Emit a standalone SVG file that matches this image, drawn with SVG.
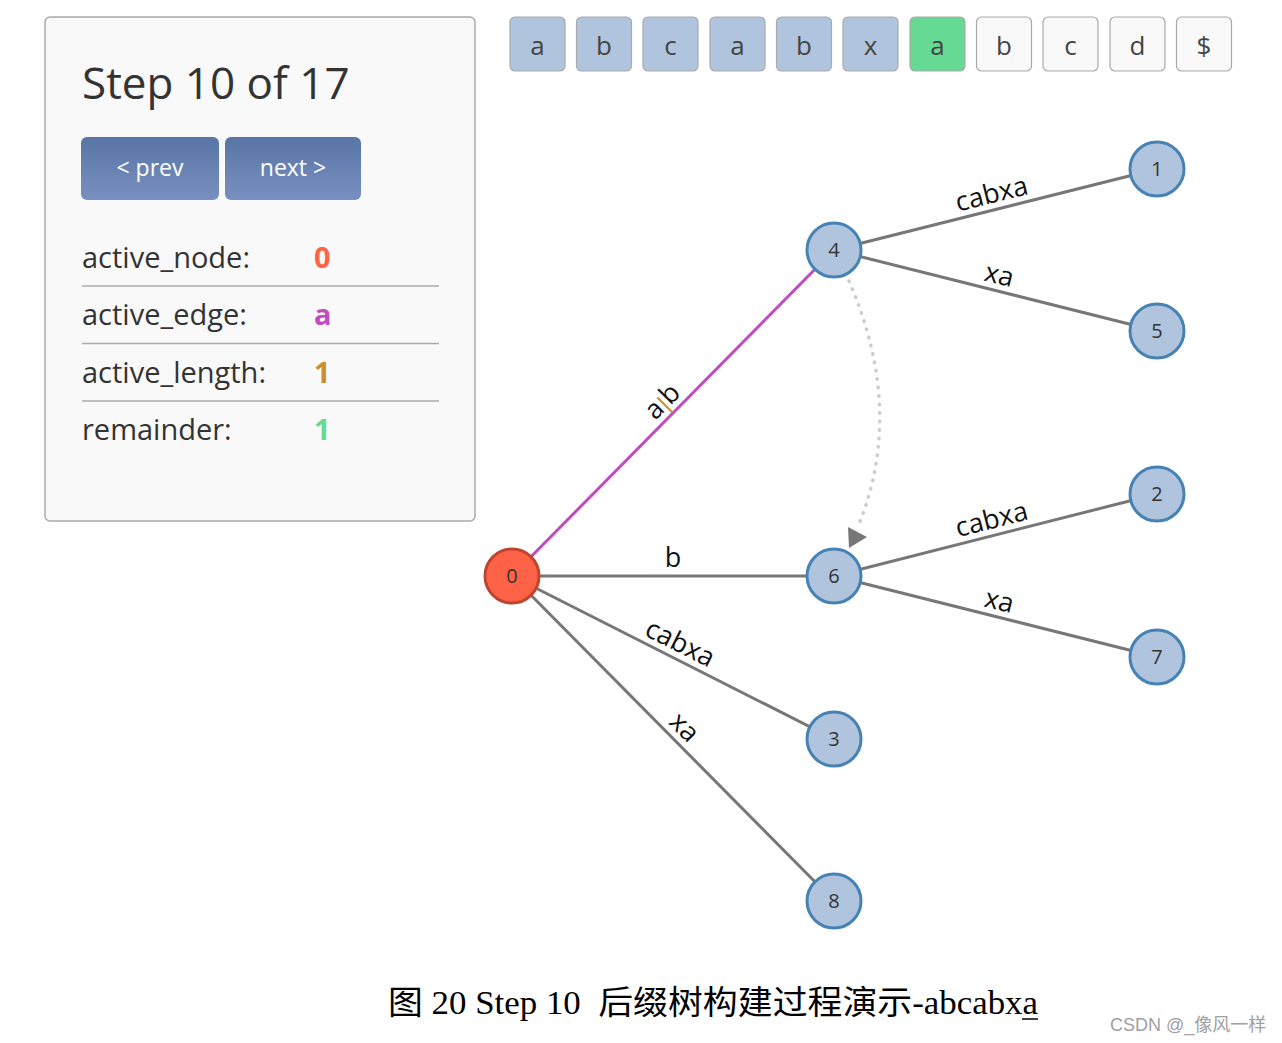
<svg xmlns="http://www.w3.org/2000/svg" width="1282" height="1043" viewBox="0 0 1282 1043">
<style>
.ui{font-family:"Open Sans","Noto Sans","DejaVu Sans",sans-serif;fill:#333}
.box{stroke:#aaa;stroke-width:1.2}
.ch{font-size:26px;text-anchor:middle;fill:#444}
.lbl{font-family:"Open Sans","Noto Sans",sans-serif;font-size:27px;fill:#111}
.mid{text-anchor:middle}
.edge{stroke:#777;stroke-width:3;fill:none}
.node circle{fill:#b0c4de;stroke:#4682b4;stroke-width:3}
.node text{font-family:"Open Sans","Noto Sans",sans-serif;font-size:20px;fill:#333;text-anchor:middle}
.row{font-size:29px}
.val{font-size:29px;font-weight:bold}
.sep{stroke:#aaa;stroke-width:1.5}
</style>
<defs>
<linearGradient id="btn" x1="0" y1="0" x2="0" y2="1">
<stop offset="0" stop-color="#5875a6"/>
<stop offset="1" stop-color="#7890c0"/>
</linearGradient>
</defs>
<rect width="1282" height="1043" fill="#fff"/>

<g id="panel" class="ui">
<rect x="45" y="17" width="430" height="504" rx="5" fill="#f9f9f9" stroke="#aaa" stroke-width="1.5"/>
<text x="82" y="99" font-size="44" fill="#333">Step 10 of 17</text>
<rect x="81" y="137" width="138" height="63" rx="6" fill="url(#btn)"/>
<rect x="225" y="137" width="136" height="63" rx="6" fill="url(#btn)"/>
<text x="150" y="176" font-size="23" fill="#fff" text-anchor="middle">&lt; prev</text>
<text x="293" y="176" font-size="23" fill="#fff" text-anchor="middle">next &gt;</text>
<text class="row" x="82" y="268">active_node:</text>
<text class="val" x="314" y="268" fill="#ff6347">0</text>
<line class="sep" x1="82" y1="286" x2="439" y2="286"/>
<text class="row" x="82" y="325">active_edge:</text>
<text class="val" x="314" y="325" fill="#c04cc0">a</text>
<line class="sep" x1="82" y1="343.5" x2="439" y2="343.5"/>
<text class="row" x="82" y="383">active_length:</text>
<text class="val" x="314" y="383" fill="#c8902a">1</text>
<line class="sep" x1="82" y1="401" x2="439" y2="401"/>
<text class="row" x="82" y="440">remainder:</text>
<text class="val" x="314" y="440" fill="#66d992">1</text>
</g>

<g id="chars" class="ui">
<rect class="box" x="510" y="17" width="55" height="54" rx="5" fill="#b0c4de"/><text class="ch" x="537.5" y="55">a</text>
<rect class="box" x="576.5" y="17" width="55" height="54" rx="5" fill="#b0c4de"/><text class="ch" x="604" y="55">b</text>
<rect class="box" x="643" y="17" width="55" height="54" rx="5" fill="#b0c4de"/><text class="ch" x="670.5" y="55">c</text>
<rect class="box" x="710" y="17" width="55" height="54" rx="5" fill="#b0c4de"/><text class="ch" x="737.5" y="55">a</text>
<rect class="box" x="776.5" y="17" width="55" height="54" rx="5" fill="#b0c4de"/><text class="ch" x="804" y="55">b</text>
<rect class="box" x="843" y="17" width="55" height="54" rx="5" fill="#b0c4de"/><text class="ch" x="870.5" y="55">x</text>
<rect class="box" x="910" y="17" width="55" height="54" rx="5" fill="#66d994"/><text class="ch" x="937.5" y="55">a</text>
<rect class="box" x="976.5" y="17" width="55" height="54" rx="5" fill="#f9f9f9"/><text class="ch" x="1004" y="55">b</text>
<rect class="box" x="1043" y="17" width="55" height="54" rx="5" fill="#f9f9f9"/><text class="ch" x="1070.5" y="55">c</text>
<rect class="box" x="1110" y="17" width="55" height="54" rx="5" fill="#f9f9f9"/><text class="ch" x="1137.5" y="55">d</text>
<rect class="box" x="1176.5" y="17" width="55" height="54" rx="5" fill="#f9f9f9"/><text class="ch" x="1204" y="55">$</text>
</g>

<g id="connectors">
<line x1="512" y1="576" x2="834" y2="250" stroke="#c04cc0" stroke-width="3"/>
<line class="edge" x1="512" y1="576" x2="834" y2="576"/>
<line class="edge" x1="512" y1="576" x2="834" y2="739"/>
<line class="edge" x1="512" y1="576" x2="834" y2="901"/>
<line class="edge" x1="834" y1="250" x2="1157" y2="169"/>
<line class="edge" x1="834" y1="250" x2="1157" y2="331"/>
<line class="edge" x1="834" y1="576" x2="1157" y2="494"/>
<line class="edge" x1="834" y1="576" x2="1157" y2="657"/>
<path d="M849,281 Q905,410 859,524" fill="none" stroke="#ccc" stroke-width="3.5" stroke-linecap="round" stroke-dasharray="0.5 8"/>
<polygon points="848,527 867,537 849,548" fill="#777"/>

<g transform="translate(673,413) rotate(-45.35)">
<text class="lbl" x="-3" y="-7" style="text-anchor:end">a</text>
<text class="lbl" x="3" y="-7" style="text-anchor:start">b</text>
<line x1="0" y1="-22" x2="0" y2="-1" stroke="#c8902a" stroke-width="2"/>
</g>
<text class="lbl mid" x="673" y="567">b</text>
<text class="lbl mid" transform="translate(673,657.5) rotate(26.85)" y="-7">cabxa</text>
<text class="lbl mid" transform="translate(673,738.5) rotate(45.27)" y="-7">xa</text>
<text class="lbl mid" transform="translate(995.5,209.5) rotate(-14.07)" y="-7">cabxa</text>
<text class="lbl mid" transform="translate(995.5,290.5) rotate(14.07)" y="-7">xa</text>
<text class="lbl mid" transform="translate(995.5,535) rotate(-14.25)" y="-7">cabxa</text>
<text class="lbl mid" transform="translate(995.5,616.5) rotate(14.07)" y="-7">xa</text>
</g>

<g id="node0" class="node"><circle cx="512" cy="576" r="27" style="fill:#ff6347;stroke:#c0452f"/><text x="512" y="583">0</text></g>
<g id="node4" class="node"><circle cx="834" cy="250" r="27"/><text x="834" y="257">4</text></g>
<g id="node6" class="node"><circle cx="834" cy="576" r="27"/><text x="834" y="583">6</text></g>
<g id="node1" class="node"><circle cx="1157" cy="169" r="27"/><text x="1157" y="176">1</text></g>
<g id="node5" class="node"><circle cx="1157" cy="331" r="27"/><text x="1157" y="338">5</text></g>
<g id="node2" class="node"><circle cx="1157" cy="494" r="27"/><text x="1157" y="501">2</text></g>
<g id="node7" class="node"><circle cx="1157" cy="657" r="27"/><text x="1157" y="664">7</text></g>
<g id="node3" class="node"><circle cx="834" cy="739" r="27"/><text x="834" y="746">3</text></g>
<g id="node8" class="node"><circle cx="834" cy="901" r="27"/><text x="834" y="908">8</text></g>

<g id="caption">
<text x="388" y="1014" font-family="'Liberation Serif','Noto Sans CJK SC',serif" font-size="33" fill="#000" xml:space="preserve" textLength="650" lengthAdjust="spacingAndGlyphs">图 20 Step 10  后缀树构建过程演示-abcabxa</text>
<line x1="1022" y1="1019" x2="1038" y2="1019" stroke="#000" stroke-width="1.5"/>
<text x="1110" y="1031" font-family="'Liberation Sans','Noto Sans CJK SC',sans-serif" font-size="18" fill="#a0a0a0">CSDN @_像风一样</text>
</g>
</svg>
